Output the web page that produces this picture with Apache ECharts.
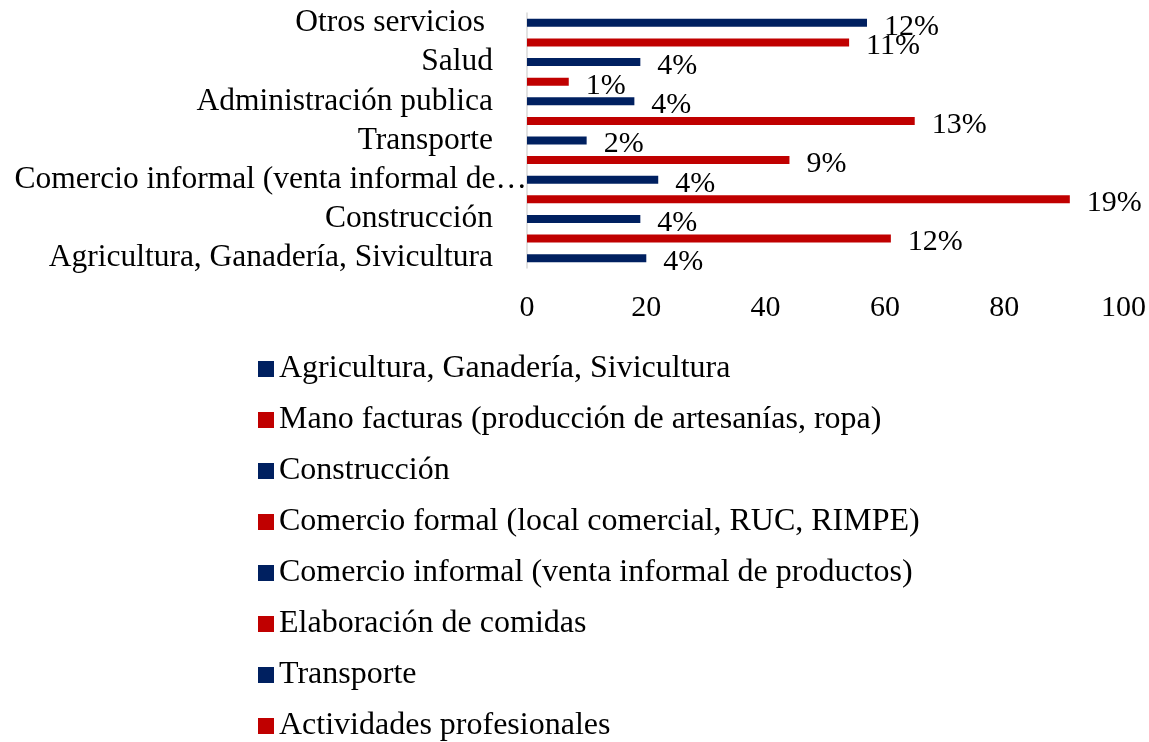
<!DOCTYPE html>
<html>
<head>
<meta charset="utf-8">
<script src="https://cdn.jsdelivr.net/npm/echarts@6/dist/echarts.min.js"></script>
<style>
html,body{margin:0;padding:0;background:#fff;}
#c{width:1149px;height:742px;}
</style>
</head>
<body>
<div id="c"></div>
<script>
const categories = [
  "Agricultura, Ganadería, Sivicultura",
  "Mano facturas (producción de artesanías, ropa)",
  "Construcción",
  "Comercio formal (local comercial, RUC, RIMPE)",
  "Comercio informal (venta informal de productos)",
  "Elaboración de comidas",
  "Transporte",
  "Actividades profesionales",
  "Administración publica",
  "Educación",
  "Salud",
  "Turismo",
  "Otros servicios "
];
const values = [20, 61, 19, 91, 22, 44, 10, 65, 18, 7, 19, 54, 57];
const pctLabels = ["4%", "12%", "4%", "19%", "4%", "9%", "2%", "13%", "4%", "1%", "4%", "11%", "12%"];
const xTicks = [0, 20, 40, 60, 80, 100];

const BLUE = "#002060", RED = "#C00000";
const FONT = "'Liberation Serif', 'Times New Roman', serif";
const CAT_SIZE = 31.5;

const series = categories.map((name, i) => ({
  name: name,
  type: "bar",
  barWidth: 8,
  barGap: "-100%",
  itemStyle: { color: i % 2 === 0 ? BLUE : RED },
  data: categories.map((c, j) => (j === i ? values[i] : "-")),
  label: {
    show: true,
    position: "right",
    distance: 17,
    offset: [0, 4],
    color: "#000",
    fontFamily: FONT,
    fontSize: 30,
    formatter: () => pctLabels[i]
  },
  emphasis: { disabled: true }
}));

const catFont = CAT_SIZE + "px " + FONT;
const chart = echarts.init(document.getElementById("c"), null, { renderer: "canvas" });
chart.setOption({
  animation: false,
  backgroundColor: "#fff",
  grid: { left: 527, right: 25, top: 13, height: 255, containLabel: false },
  xAxis: {
    type: "value",
    min: xTicks[0],
    max: xTicks[xTicks.length - 1],
    interval: xTicks[1] - xTicks[0],
    axisLine: { show: false },
    axisTick: { show: false },
    splitLine: { show: false },
    axisLabel: { color: "#000", fontFamily: FONT, fontSize: 30, margin: 25 }
  },
  yAxis: {
    type: "category",
    data: categories,
    axisLine: { show: true, lineStyle: { color: "#d9d9d9", width: 1.5 } },
    axisTick: { show: false },
    axisLabel: {
      interval: 1,
      color: "#000",
      fontFamily: FONT,
      fontSize: CAT_SIZE,
      margin: 34,
      formatter: function (v) {
        const w = echarts.format.getTextRect ? 0 : 0;
        const t = echarts.format.truncateText(v, 515, catFont, "…");
        if (t !== v) return "{c|" + t + "}";
        return v;
      },
      rich: {
        c: { fontFamily: FONT, fontSize: CAT_SIZE, color: "#000", padding: [0, -34, 0, 0] }
      }
    }
  },
  legend: {
    orient: "vertical",
    left: 253,
    top: 347,
    height: 1400,
    icon: "rect",
    itemWidth: 16,
    itemHeight: 16,
    itemGap: 17,
    data: categories,
    selectedMode: false,
    textStyle: { color: "#000", fontFamily: FONT, fontSize: 32, lineHeight: 34 }
  },
  series: series
});
</script>
</body>
</html>
